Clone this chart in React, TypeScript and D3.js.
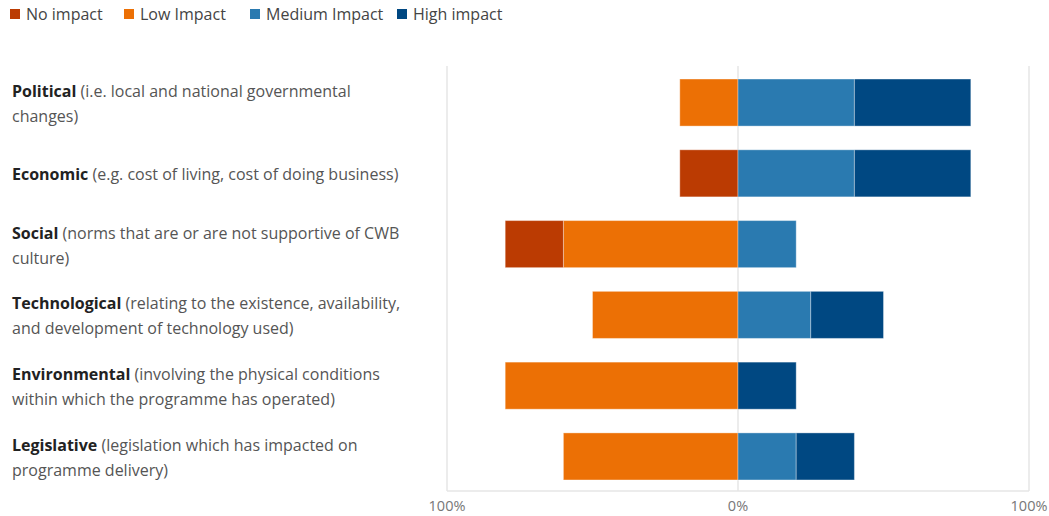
import React from "react";
import * as d3 from "d3";

const categories = ["Political", "Economic", "Social", "Technological", "Environmental", "Legislative"];
const descriptions = [
  ["(i.e. local and national governmental", "changes)"],
  ["(e.g. cost of living, cost of doing business)"],
  ["(norms that are or are not supportive of CWB", "culture)"],
  ["(relating to the existence, availability,", "and development of technology used)"],
  ["(involving the physical conditions", "within which the programme has operated)"],
  ["(legislation which has impacted on", "programme delivery)"],
];
const seriesNames = ["No impact", "Low Impact", "Medium Impact", "High impact"];
const noImpact = [0, 20, 20, 0, 0, 0];
const lowImpact = [20, 0, 60, 50, 80, 60];
const mediumImpact = [40, 40, 20, 25, 0, 20];
const highImpact = [40, 40, 0, 25, 20, 20];
const tickValues = [-100, 0, 100];
const tickLabels = ["100%", "0%", "100%"];
const colors = ["#bb3b02", "#ec7005", "#2a7ab0", "#004882"];

export default function App() {
  const W = 1049, H = 516;
  const x = d3.scaleLinear().domain([-100, 100]).range([447, 1029]);
  const y = d3.scaleBand<string>().domain(categories).range([67, 492]).paddingInner(0.335).paddingOuter(0.17);
  const font = "'Open Sans', 'Noto Sans', sans-serif";

  const bars: JSX.Element[] = [];
  categories.forEach((c, i) => {
    let left = 0;
    const neg = [
      { v: lowImpact[i], s: 1 },
      { v: noImpact[i], s: 0 },
    ];
    neg.forEach(({ v, s }) => {
      if (v > 0) {
        const x0 = x(-(left + v));
        const x1 = x(-left);
        bars.push(
          <rect key={`n${i}${s}`} x={x0} y={y(c)} width={x1 - x0} height={y.bandwidth()} fill={colors[s]} stroke="#ffffff" strokeOpacity={0.35} strokeWidth={1} />
        );
        left += v;
      }
    });
    let right = 0;
    const pos = [
      { v: mediumImpact[i], s: 2 },
      { v: highImpact[i], s: 3 },
    ];
    pos.forEach(({ v, s }) => {
      if (v > 0) {
        const x0 = x(right);
        const x1 = x(right + v);
        bars.push(
          <rect key={`p${i}${s}`} x={x0} y={y(c)} width={x1 - x0} height={y.bandwidth()} fill={colors[s]} stroke="#ffffff" strokeOpacity={0.35} strokeWidth={1} />
        );
        right += v;
      }
    });
  });

  const legendX = [10, 124, 250, 397];

  return (
    <svg width={W} height={H} style={{ position: "absolute", left: 0, top: 0, background: "#fff" }}>
      <rect x={0} y={0} width={W} height={H} fill="#fff" />
      {seriesNames.map((n, i) => (
        <g key={n}>
          <rect x={legendX[i]} y={9} width={10} height={10} fill={colors[i]} />
          <text x={legendX[i] + 16} y={20} fontFamily={font} fontSize={16} fill="#444">{n}</text>
        </g>
      ))}
      {tickValues.map((t) => (
        <line key={t} x1={x(t)} x2={x(t)} y1={66} y2={491} stroke="#e6e6e6" strokeWidth={1.5} />
      ))}
      <line x1={x(-100)} x2={x(100)} y1={491} y2={491} stroke="#e6e6e6" strokeWidth={1.5} />
      {bars}
      {tickValues.map((t, i) => (
        <text key={`t${i}`} x={x(t)} y={511} textAnchor="middle" fontFamily={font} fontSize={14.5} fill="#777">{tickLabels[i]}</text>
      ))}
      {categories.map((c, i) => {
        const lines = descriptions[i];
        const cy = (y(c) as number) + y.bandwidth() / 2;
        const lh = 25;
        const top = lines.length === 1 ? cy + 7 : cy - lh / 2 + 7;
        return (
          <text key={c} fontFamily={font} fontSize={16} fill="#555">
            <tspan x={12} y={top}>
              <tspan fontWeight="bold" fill="#222">{c}</tspan> {lines[0]}
            </tspan>
            {lines[1] && <tspan x={12} y={top + lh}>{lines[1]}</tspan>}
          </text>
        );
      })}
    </svg>
  );
}
